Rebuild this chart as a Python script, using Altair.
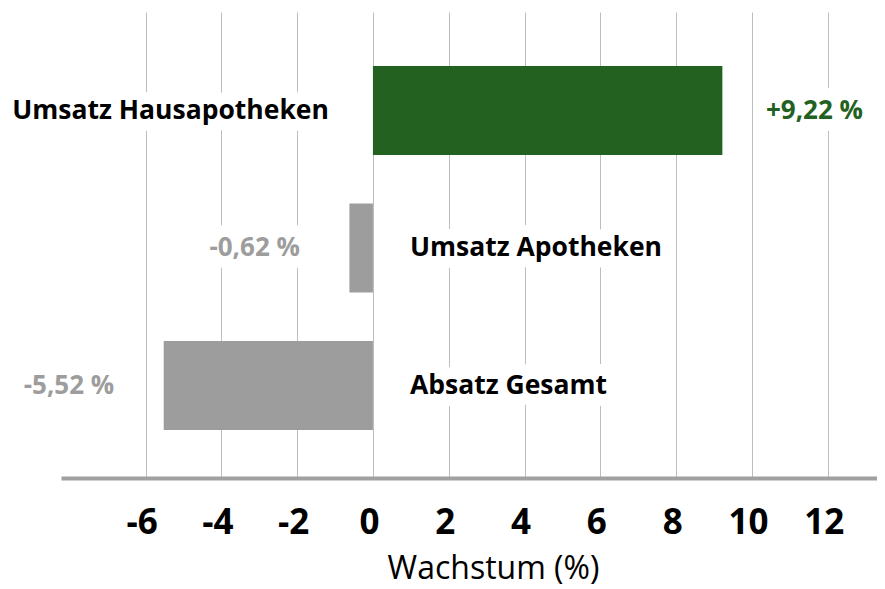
import altair as alt
import pandas as pd

categories = ["Umsatz Hausapotheken", "Umsatz Apotheken", "Absatz Gesamt"]
values = [9.22, -0.62, -5.52]
value_labels = ["+9,22 %", "-0,62 %", "-5,52 %"]
tick_values = [-6, -4, -2, 0, 2, 4, 6, 8, 10, 12]
x_title = "Wachstum (%)"

df = pd.DataFrame({"cat": categories, "value": values, "label": value_labels})

GREEN = "#236121"
GRAY = "#9d9d9d"
FONT = "Open Sans"

xscale = alt.Scale(domain=[-8.23, 13.30], nice=False, zero=False)
yscale = alt.Scale(domain=categories, paddingInner=0.353, paddingOuter=0.371, align=0.53)
y_enc = alt.Y("cat:N", scale=yscale, axis=None, sort=categories)
color_cond = alt.condition("datum.value > 0", alt.value(GREEN), alt.value(GRAY))

base = alt.Chart(df)

bars = base.mark_bar().encode(
    x=alt.X(
        "value:Q",
        scale=xscale,
        axis=alt.Axis(
            values=tick_values,
            labelExpr="datum.value < 0 ? '-' + abs(datum.value) : '' + datum.value",
            title=x_title,
            grid=True,
            gridColor="#bdbdbd",
            gridWidth=1,
            domainColor="#a0a0a0",
            domainWidth=4,
            ticks=False,
            labelFont=FONT,
            labelFontWeight="bold",
            labelFontSize=35,
            labelColor="#000000",
            labelPadding=27,
            labelOffset=-4,
            titleFont=FONT,
            titleFontWeight="normal",
            titleFontSize=32,
            titleColor="#000000",
            titlePadding=13,
            titleX=432,
            titleAlign="center",
        ),
    ),
    x2=alt.datum(0),
    y=y_enc,
    color=color_cond,
)

cat_text = dict(font=FONT, fontWeight="bold", fontSize=26.5, baseline="middle")
val_text_style = dict(font=FONT, fontWeight="bold", fontSize=26, baseline="middle")
halo = dict(stroke="white", strokeWidth=24, strokeJoin="round", fill="white")

pos = base.transform_filter("datum.value > 0")
neg = base.transform_filter("datum.value <= 0")

cat_pos_halo = pos.mark_text(align="right", dx=-44, **cat_text, **halo).encode(
    x=alt.datum(0), y=y_enc, text="cat:N")
cat_pos = pos.mark_text(align="right", dx=-44, color="#000000", **cat_text).encode(
    x=alt.datum(0), y=y_enc, text="cat:N")
cat_neg_halo = neg.mark_text(align="left", dx=37, **cat_text, **halo).encode(
    x=alt.datum(0), y=y_enc, text="cat:N")
cat_neg = neg.mark_text(align="left", dx=37, color="#000000", **cat_text).encode(
    x=alt.datum(0), y=y_enc, text="cat:N")

val_base = base.transform_calculate(
    lx="datum.value > 0 ? datum.value + 2.43 : datum.value - 2.5"
)
val_halo = val_base.mark_text(align="center", **val_text_style, **halo).encode(
    x="lx:Q", y=y_enc, text="label:N")
val_text = val_base.mark_text(align="center", **val_text_style).encode(
    x="lx:Q", y=y_enc, text="label:N", color=color_cond)

chart = alt.layer(
    bars, cat_pos_halo, cat_neg_halo, val_halo, cat_pos, cat_neg, val_text
).properties(
    width=816,
    height=466,
    autosize=alt.AutoSizeParams(type="none"),
    padding={"left": 53, "right": 0, "top": 4, "bottom": 111},
    background="white",
).configure_view(stroke=None)

chart.save("out.html", embed_options={"renderer": "svg", "actions": False})
